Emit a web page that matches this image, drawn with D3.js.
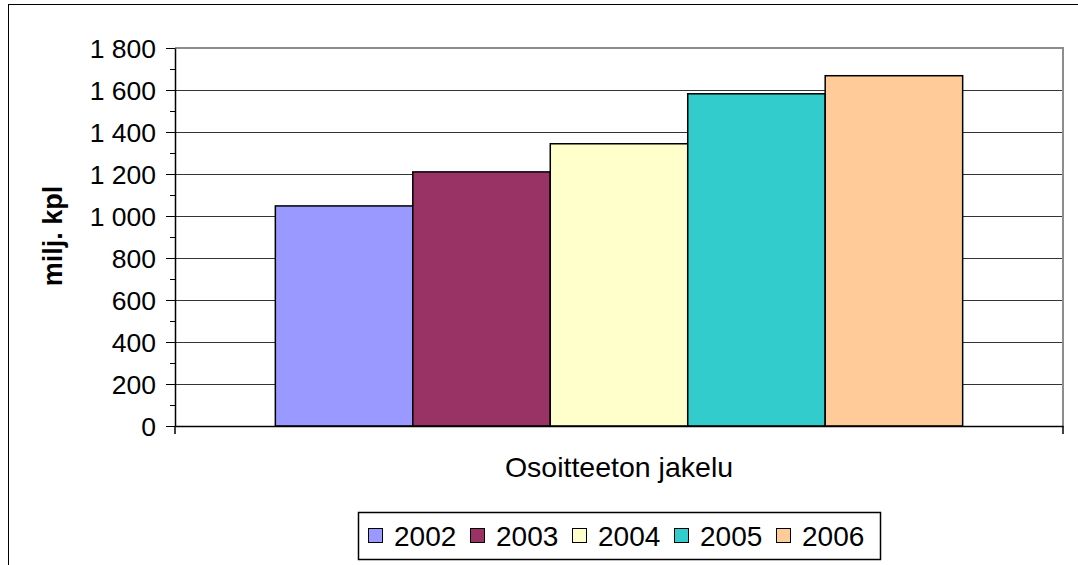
<!DOCTYPE html>
<html>
<head>
<meta charset="utf-8">
<style>
    body { margin: 0; background: #fff; }
    svg { display: block; font-family: 'Liberation Sans', Arial, sans-serif; }
    .y .tick text { font-size: 26.5px; fill: #000; }
    .y .domain, .x .domain { stroke: #000; stroke-width: 1.5px; }
    .y .tick line { stroke: #000; }
    .grid line { stroke: #333; stroke-width: 1px; }
    .axis-title { font-size: 27px; font-weight: bold; }
    .cat-label { font-size: 28.5px; }
    .legend text { font-size: 28px; }
</style>
</head>
<body>
<svg width="1078" height="565"></svg>
<script src="https://cdnjs.cloudflare.com/ajax/libs/d3/7.8.5/d3.min.js"></script>
<script>
    // data
    let category = "Osoitteeton jakelu";
    let years = ["2002", "2003", "2004", "2005", "2006"];
    let values = [1048, 1210, 1344, 1582, 1668];
    let colors = ["#9999FF", "#993366", "#FFFFCC", "#33CCCC", "#FFCC99"];
    let yTicks = [0, 200, 400, 600, 800, 1000, 1200, 1400, 1600, 1800];

    let svg = d3.select("svg");

    let plot = { left: 175, right: 1063, top: 48, bottom: 426 };

    // outer chart frame
    svg.append("rect")
        .attr("x", 8.5).attr("y", 4.5)
        .attr("width", 1090).attr("height", 580)
        .attr("fill", "#fff")
        .attr("stroke", "#000")
        .attr("stroke-width", 1);

    let x = d3.scaleBand()
        .domain(years)
        .range([plot.left, plot.right])
        .paddingInner(0)
        .paddingOuter(0.73);

    let y = d3.scaleLinear()
        .domain([0, 1800])
        .range([plot.bottom, plot.top]);

    let color = d3.scaleOrdinal().domain(years).range(colors);

    let fmt = d3.formatLocale({ decimal: ",", thousands: "\u00a0", grouping: [3], currency: ["", ""] }).format(",");

    // plot area border (gray, top and right)
    svg.append("path")
        .attr("d", `M${plot.left},${plot.top}H${plot.right}V${plot.bottom}`)
        .attr("fill", "none")
        .attr("stroke", "#8c8c8c")
        .attr("stroke-width", 2);

    // gridlines
    svg.append("g")
        .attr("class", "grid")
        .selectAll("line")
        .data(yTicks.filter(d => d > 0 && d < 1800))
        .join("line")
        .attr("x1", plot.left).attr("x2", plot.right - 1)
        .attr("y1", d => Math.round(y(d)) + 0.5)
        .attr("y2", d => Math.round(y(d)) + 0.5);

    // bars
    svg.append("g")
        .selectAll("rect")
        .data(years)
        .join("rect")
        .attr("x", d => x(d))
        .attr("y", (d, i) => y(values[i]))
        .attr("width", x.bandwidth())
        .attr("height", (d, i) => y(0) - y(values[i]))
        .attr("fill", d => color(d))
        .attr("stroke", "#000")
        .attr("stroke-width", 1.5);

    // minor ticks
    svg.append("g")
        .selectAll("line")
        .data(d3.range(100, 1800, 200))
        .join("line")
        .attr("x1", plot.left - 5).attr("x2", plot.left)
        .attr("y1", d => Math.round(y(d)) + 0.5)
        .attr("y2", d => Math.round(y(d)) + 0.5)
        .attr("stroke", "#000");

    // y axis
    svg.append("g")
        .attr("class", "y axis")
        .attr("transform", `translate(${plot.left},0)`)
        .call(d3.axisLeft(y)
            .tickValues(yTicks)
            .tickSize(9)
            .tickSizeOuter(0)
            .tickPadding(10)
            .tickFormat(fmt))
        .call(g => g.selectAll(".tick text").attr("dy", "0.36em"));

    // x axis
    let xCat = d3.scaleBand().domain([category]).range([plot.left, plot.right]);
    svg.append("g")
        .attr("class", "x axis")
        .attr("transform", `translate(0,${plot.bottom})`)
        .call(d3.axisBottom(xCat).tickSize(0).tickSizeOuter(0).tickFormat(""));

    svg.append("g")
        .selectAll("line")
        .data(xCat.range())
        .join("line")
        .attr("x1", d => d).attr("x2", d => d)
        .attr("y1", plot.bottom).attr("y2", plot.bottom + 8)
        .attr("stroke", "#000")
        .attr("stroke-width", 1.5);

    svg.append("text")
        .attr("class", "cat-label")
        .attr("x", xCat(category) + xCat.bandwidth() / 2)
        .attr("y", 477)
        .attr("text-anchor", "middle")
        .text(category);

    // y axis title
    svg.append("text")
        .attr("class", "axis-title")
        .attr("transform", "translate(62,236) rotate(-90)")
        .attr("text-anchor", "middle")
        .text("milj. kpl");

    // legend
    let legend = svg.append("g").attr("class", "legend");
    legend.append("rect")
        .attr("x", 358.5).attr("y", 512.5)
        .attr("width", 522).attr("height", 47)
        .attr("fill", "#fff")
        .attr("stroke", "#000")
        .attr("stroke-width", 1.5);

    let item = legend.selectAll("g.item")
        .data(years)
        .join("g")
        .attr("class", "item")
        .attr("transform", (d, i) => `translate(${368 + i * 102},0)`);

    item.append("rect")
        .attr("x", 0.5).attr("y", 528.5)
        .attr("width", 14).attr("height", 14)
        .attr("fill", d => color(d))
        .attr("stroke", "#000")
        .attr("stroke-width", 1);

    item.append("text")
        .attr("x", 26)
        .attr("y", 546)
        .text(d => d);
</script>
</body>
</html>
